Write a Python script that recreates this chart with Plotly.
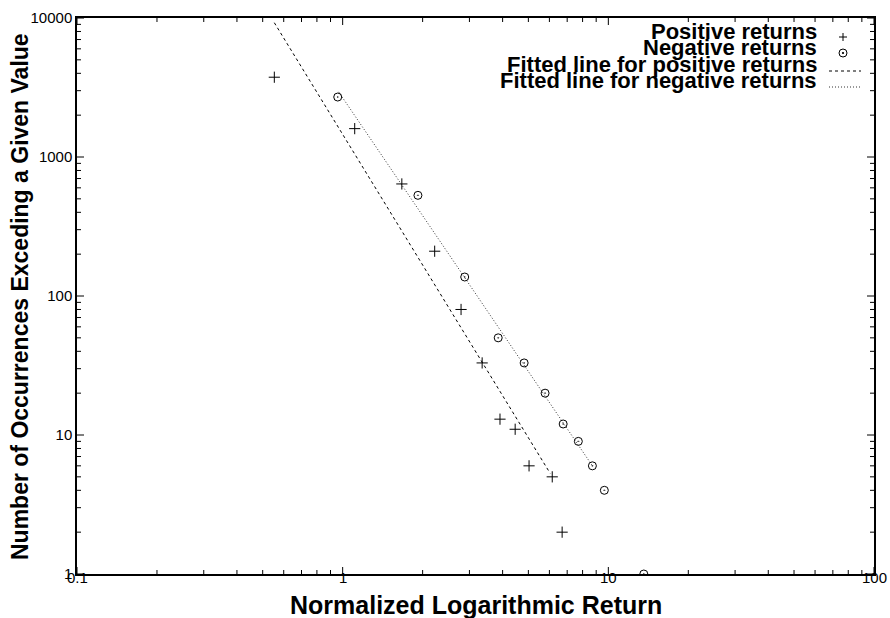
import math
import plotly.graph_objects as go

# ---- data ----
pos_x = [0.553, 1.11, 1.67, 2.22, 2.79, 3.35, 3.91, 4.46, 5.03, 6.15, 6.7]
pos_y = [3750, 1600, 640, 210, 80, 33, 13, 11, 6, 5, 2]
neg_x = [0.958, 1.92, 2.88, 3.85, 4.82, 5.78, 6.76, 7.71, 8.71, 9.66, 13.6]
neg_y = [2700, 530, 137, 50, 33, 20, 12, 9, 6, 4, 1]
fit_pos_x = [0.553, 6.04]
fit_pos_y = [9250, 5.3]
fit_neg_x = [0.966, 8.71]
fit_neg_y = [2940, 6.0]

x_ticks = [0.1, 1, 10, 100]
x_ticklabels = ["0.1", "1", "10", "100"]
y_ticks = [1, 10, 100, 1000, 10000]
y_ticklabels = ["1", "10", "100", "1000", "10000"]

x_title = "Normalized Logarithmic Return"
y_title = "Number of Occurrences Exceding a Given Value"
legend_labels = ["Positive returns", "Negative returns",
                 "Fitted line for positive returns", "Fitted line for negative returns"]

FONT = "Liberation Sans, Arial, Helvetica, sans-serif"
W, H = 890, 618
L, R, T, B = 77, 16, 18, 44
PW, PH = W - L - R, H - T - B
MAJOR_LEN, MINOR_LEN = 7, 4
X_RANGE = [math.log10(x_ticks[0]), math.log10(x_ticks[-1])]
Y_RANGE = [math.log10(y_ticks[0]), math.log10(y_ticks[-1])]


def px_x(p):  # pixel -> paper x
    return (p - L) / PW


def px_y(p):  # pixel -> paper y
    return (H - B - p) / PH


def log_ticks(majors):
    out = []
    for i, m in enumerate(majors):
        out.append((m, MAJOR_LEN))
        if i < len(majors) - 1:
            for k in range(2, 10):
                out.append((m * k, MINOR_LEN))
    return out


fig = go.Figure()

fig.add_trace(go.Scatter(x=fit_pos_x, y=fit_pos_y, mode="lines",
                         line=dict(color="black", width=1, dash="3px,3px"),
                         name=legend_labels[2], showlegend=False))
fig.add_trace(go.Scatter(x=fit_neg_x, y=fit_neg_y, mode="lines",
                         line=dict(color="#333333", width=1, dash="1px,2px"),
                         name=legend_labels[3], showlegend=False))
fig.add_trace(go.Scatter(x=pos_x, y=pos_y, mode="markers",
                         marker=dict(symbol="cross-thin-open", size=8, color="black",
                                     line=dict(color="black", width=1)),
                         name=legend_labels[0], showlegend=False))
fig.add_trace(go.Scatter(x=neg_x, y=neg_y, mode="markers",
                         marker=dict(symbol="circle-open-dot", size=8, color="black",
                                     line=dict(color="black", width=1)),
                         name=legend_labels[1], showlegend=False))

# ---- inside tick marks on all four sides (gnuplot style, major + minor) ----
tick_line = dict(color="black", width=1)
for v, ln in log_ticks(x_ticks):
    xp = (math.log10(v) - X_RANGE[0]) / (X_RANGE[1] - X_RANGE[0])
    lp = ln / PH
    fig.add_shape(type="line", xref="paper", yref="paper",
                  x0=xp, x1=xp, y0=0, y1=lp, line=tick_line)
    fig.add_shape(type="line", xref="paper", yref="paper",
                  x0=xp, x1=xp, y0=1, y1=1 - lp, line=tick_line)
for v, ln in log_ticks(y_ticks):
    yp = (math.log10(v) - Y_RANGE[0]) / (Y_RANGE[1] - Y_RANGE[0])
    lp = ln / PW
    fig.add_shape(type="line", xref="paper", yref="paper",
                  y0=yp, y1=yp, x0=0, x1=lp, line=tick_line)
    fig.add_shape(type="line", xref="paper", yref="paper",
                  y0=yp, y1=yp, x0=1, x1=1 - lp, line=tick_line)

# ---- gnuplot-style key: right-aligned text, sample on the right ----
key_text_px_y = [31.5, 47, 64, 81]
key_sample_px_y = [37, 53, 71, 87]
for lab, ty in zip(legend_labels, key_text_px_y):
    fig.add_annotation(x=px_x(819), y=px_y(ty), xref="paper", yref="paper",
                       text=lab, showarrow=False, xanchor="right", yanchor="middle",
                       font=dict(family=FONT, size=22, color="black", weight="bold"))

sx = 843
fig.add_shape(type="line", xref="paper", yref="paper",
              x0=px_x(sx - 4), x1=px_x(sx + 4),
              y0=px_y(key_sample_px_y[0]), y1=px_y(key_sample_px_y[0]),
              line=dict(color="black", width=1))
fig.add_shape(type="line", xref="paper", yref="paper",
              x0=px_x(sx), x1=px_x(sx),
              y0=px_y(key_sample_px_y[0] - 4), y1=px_y(key_sample_px_y[0] + 4),
              line=dict(color="black", width=1))
fig.add_shape(type="circle", xref="paper", yref="paper",
              x0=px_x(sx - 4), x1=px_x(sx + 4),
              y0=px_y(key_sample_px_y[1] - 4), y1=px_y(key_sample_px_y[1] + 4),
              line=dict(color="black", width=1))
fig.add_shape(type="circle", xref="paper", yref="paper",
              x0=px_x(sx - 0.7), x1=px_x(sx + 0.7),
              y0=px_y(key_sample_px_y[1] - 0.7), y1=px_y(key_sample_px_y[1] + 0.7),
              line=dict(color="black", width=1), fillcolor="black")
fig.add_shape(type="line", xref="paper", yref="paper", x0=px_x(829), x1=px_x(861),
              y0=px_y(key_sample_px_y[2]), y1=px_y(key_sample_px_y[2]),
              line=dict(color="black", width=1, dash="3px,3px"))
fig.add_shape(type="line", xref="paper", yref="paper", x0=px_x(829), x1=px_x(861),
              y0=px_y(key_sample_px_y[3]), y1=px_y(key_sample_px_y[3]),
              line=dict(color="#333333", width=1, dash="1px,2px"))

# x tick labels (placed like gnuplot, tight under the axis)
for v, t in zip(x_ticks, x_ticklabels):
    fig.add_annotation(x=math.log10(v), y=px_y(577), xref="x", yref="paper",
                       text=t, showarrow=False, xanchor="center", yanchor="middle",
                       font=dict(family=FONT, size=15, color="black"))

fig.add_annotation(x=px_x(476), y=px_y(605), xref="paper", yref="paper",
                   text=x_title, showarrow=False, xanchor="center", yanchor="middle",
                   font=dict(family=FONT, size=25, color="black", weight="bold"))
fig.add_annotation(x=px_x(20), y=px_y(297), xref="paper", yref="paper",
                   text=y_title, showarrow=False, xanchor="center", yanchor="middle",
                   textangle=-90,
                   font=dict(family=FONT, size=23, color="black", weight="bold"))

fig.update_layout(
    width=W, height=H,
    margin=dict(l=L, r=R, t=T, b=B, autoexpand=False),
    paper_bgcolor="white", plot_bgcolor="white",
    font=dict(family=FONT, color="black"),
    xaxis=dict(type="log", range=X_RANGE, tickmode="array", tickvals=x_ticks,
               ticktext=x_ticklabels, showticklabels=False, ticks="",
               showgrid=False, zeroline=False, showline=True, linecolor="black",
               linewidth=1.5, mirror=True),
    yaxis=dict(type="log", range=Y_RANGE, tickmode="array", tickvals=y_ticks,
               ticktext=y_ticklabels, ticks="", showgrid=False, zeroline=False,
               showline=True, linecolor="black", linewidth=1.5, mirror=True,
               tickfont=dict(family=FONT, size=15, color="black")),
    showlegend=False,
)

fig.write_html("out.html")
